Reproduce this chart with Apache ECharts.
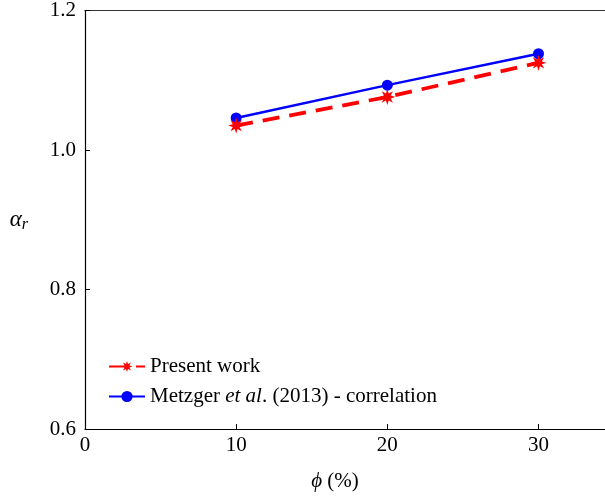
<!DOCTYPE html>
<html>
<head>
<meta charset="utf-8">
<script src="https://cdn.jsdelivr.net/npm/echarts@6/dist/echarts.min.js"></script>
<style>html,body{margin:0;padding:0;background:#fff}#c{width:605px;height:498px}</style>
</head>
<body>
<div id="c"></div>
<script>
const phi = [10, 20, 30];
const presentWork = [1.035, 1.076, 1.125];
const metzger = [1.046, 1.093, 1.138];
const xTicks = [0, 10, 20, 30];
const yTicks = [0.6, 0.8, 1.0, 1.2];

function starPath() {
  const n = 8, ro = 10, ri = 4.6;
  let d = '';
  for (let i = 0; i < 2 * n; i++) {
    const r = i % 2 === 0 ? ro : ri;
    const a = Math.PI * i / n - Math.PI / 2;
    const x = (r * Math.cos(a)).toFixed(2), y = (r * Math.sin(a)).toFixed(2);
    d += (i === 0 ? 'M' : 'L') + x + ' ' + y + ' ';
  }
  return 'path://' + d + 'Z';
}

const chart = echarts.init(document.getElementById('c'));
const font = 'Liberation Serif';
const fs = 21;
chart.setOption({
  animation: false,
  grid: { left: 85, top: 10, bottom: 69, right: 0, show: false },
  xAxis: [{
    type: 'value', min: 0, max: 34.4, interval: 10,
    name: '{p|ϕ} (%)', nameLocation: 'middle', nameGap: 42,
    nameTextStyle: { fontFamily: font, fontSize: fs, color: '#000', padding: [0, 20, 0, 0],
      rich: { p: { fontFamily: font, fontSize: fs, fontStyle: 'italic', color: '#000' } } },
    axisLine: { show: true, lineStyle: { color: '#000', width: 1.2 } },
    axisTick: { show: true, inside: true, length: 5, lineStyle: { color: '#000' } },
    axisLabel: { fontFamily: font, fontSize: fs, color: '#000', margin: 6, showMaxLabel: false,
      formatter: v => xTicks.includes(v) ? String(v) : '' },
    splitLine: { show: false }
  }, {
    type: 'value', position: 'top', min: 0, max: 34.4,
    axisLine: { show: true, lineStyle: { color: '#333', width: 1.2 } },
    axisTick: { show: false }, axisLabel: { show: false }, splitLine: { show: false }
  }],
  yAxis: {
    type: 'value', min: 0.6, max: 1.2, interval: 0.2,
    name: '{a|α}{s|r}', nameLocation: 'middle', nameRotate: 0, nameGap: 57,
    nameTextStyle: { rich: {
      a: { fontFamily: font, fontSize: 23, fontStyle: 'italic', color: '#000' },
      s: { fontFamily: font, fontSize: 16, fontStyle: 'italic', color: '#000', padding: [10, 0, 0, 0] }
    } },
    axisLine: { show: true, lineStyle: { color: '#000', width: 1.2 } },
    axisTick: { show: true, inside: true, length: 5, lineStyle: { color: '#000' } },
    axisLabel: { fontFamily: font, fontSize: fs, color: '#000', margin: 9,
      formatter: v => { const t = yTicks.find(y => Math.abs(y - v) < 1e-6); return t !== undefined ? t.toFixed(1) : ''; } },
    splitLine: { show: false }
  },
  legend: {
    orient: 'vertical', left: 103, top: 351, itemWidth: 36, itemHeight: 14, itemGap: 9,
    textStyle: { fontFamily: font, fontSize: fs, color: '#000',
      rich: { i: { fontFamily: font, fontSize: fs, fontStyle: 'italic', color: '#000' } } },
    formatter: name => name === 'Metzger' ? 'Metzger {i|et al}. (2013) - correlation' : name,
    data: ['Present work', 'Metzger']
  },
  series: [
    {
      name: 'Metzger', type: 'line', data: phi.map((x, i) => [x, metzger[i]]),
      symbol: 'circle', symbolSize: 11, z: 2,
      itemStyle: { color: '#0000ff' }, lineStyle: { color: '#0000ff', width: 2.5 }
    },
    {
      name: 'Present work', type: 'line', data: phi.map((x, i) => [x, presentWork[i]]),
      symbol: starPath(), symbolSize: 16, z: 3,
      itemStyle: { color: '#ff0000' }, lineStyle: { color: '#ff0000', width: 3.8, type: [17, 10] }
    }
  ]
});
</script>
</body>
</html>
